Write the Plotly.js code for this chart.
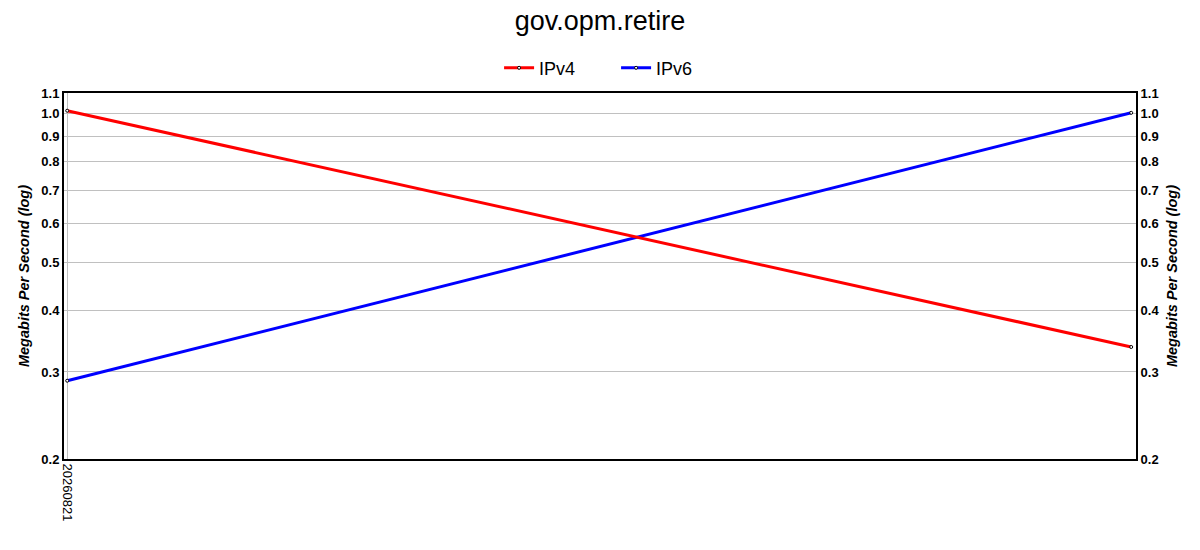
<!DOCTYPE html>
<html>
<head>
<meta charset="utf-8">
<script src="https://cdn.plot.ly/plotly-3.0.1.min.js"></script>
<style>html,body{margin:0;padding:0;background:#fff;}#chart{width:1200px;height:550px;}</style>
</head>
<body>
<div id="chart"></div>
<script>
const chartTitle = "gov.opm.retire";
const xPositions = [0, 1];
const xTickVals = [0];
const xTickText = ["20260821"];
const ipv4Values = [1.013, 0.337];
const ipv6Values = [0.288, 1.003];
const yTickVals = [0.2, 0.3, 0.4, 0.5, 0.6, 0.7, 0.8, 0.9, 1.0, 1.1];
const yTickText = ["0.2", "0.3", "0.4", "0.5", "0.6", "0.7", "0.8", "0.9", "1.0", "1.1"];
const yTitle = "Megabits Per Second (log)";

const FONT = "Liberation Sans, Arial, sans-serif";
const marker = {size: 3, color: "#ffffff", line: {color: "#000000", width: 1}};

const traces = [
  {x: xPositions, y: ipv6Values, name: "IPv6", mode: "lines+markers",
   line: {color: "#0000ff", width: 3}, marker: marker},
  {x: xPositions, y: ipv4Values, name: "IPv4", mode: "lines+markers",
   line: {color: "#ff0000", width: 3}, marker: marker},
  {x: xPositions, y: ipv4Values, yaxis: "y2", mode: "lines", showlegend: false,
   hoverinfo: "skip", line: {color: "rgba(0,0,0,0)", width: 0}}
];

const yCommon = {
  type: "log",
  range: [Math.log10(0.2), Math.log10(1.1)],
  tickvals: yTickVals,
  ticktext: yTickText,
  tickfont: {family: FONT, size: 13, color: "#000", weight: "bold"},
  showline: true, linecolor: "#000", linewidth: 2,
  ticks: "",
  title: {text: yTitle, font: {family: FONT, size: 14.5, color: "#000", weight: "bold", style: "italic"}, standoff: 8},
  zeroline: false
};

const layout = {
  width: 1200, height: 550,
  margin: {l: 64, r: 64, t: 93, b: 91},
  paper_bgcolor: "#fff", plot_bgcolor: "#fff",
  font: {family: FONT, color: "#000"},
  title: {text: chartTitle, x: 0.5, xanchor: "center", y: 0.962, yanchor: "middle",
          font: {family: FONT, size: 27, color: "#000"}},
  showlegend: true,
  legend: {orientation: "h", x: 0.515, xanchor: "center", y: 1.068, yanchor: "middle",
           traceorder: "reversed", entrywidth: 72, entrywidthmode: "pixels",
           font: {family: FONT, size: 18, color: "#000"}},
  xaxis: {
    range: [-0.003, 1.0045],
    tickvals: xTickVals, ticktext: xTickText, tickangle: 90,
    tickfont: {family: FONT, size: 13, color: "#000"},
    showgrid: true, gridcolor: "#c0c0c0", gridwidth: 1,
    showline: true, linecolor: "#000", linewidth: 2, mirror: true,
    ticks: "", zeroline: false
  },
  yaxis: Object.assign({}, yCommon, {side: "left", showgrid: true, gridcolor: "#c0c0c0", gridwidth: 1}),
  yaxis2: Object.assign({}, yCommon, {side: "right", overlaying: "y", showgrid: false})
};

Plotly.newPlot("chart", traces, layout, {displayModeBar: false, staticPlot: true});
</script>
</body>
</html>
